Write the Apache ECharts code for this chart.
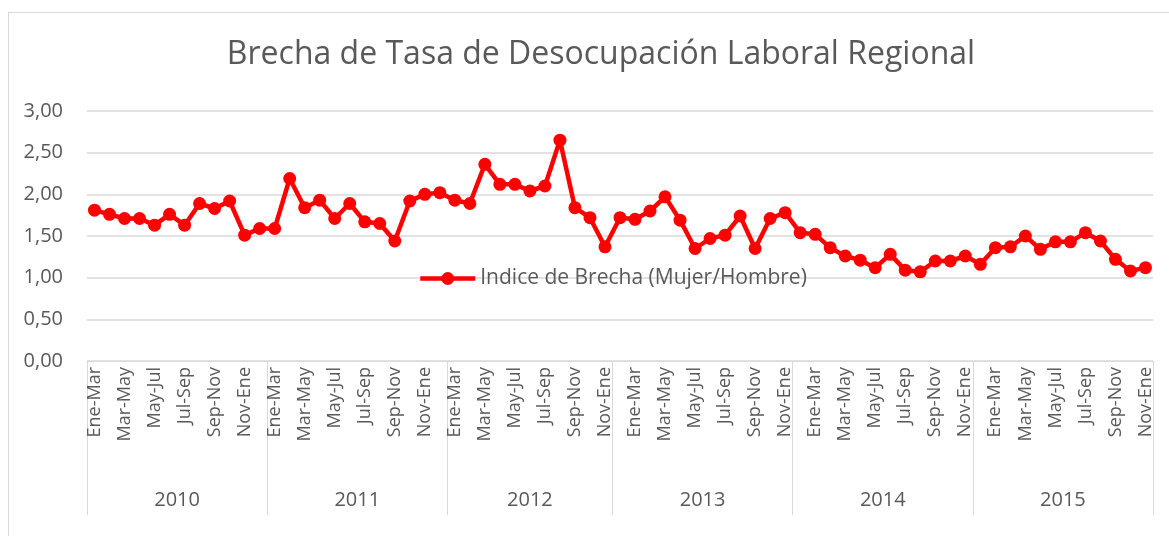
<!DOCTYPE html>
<html>
<head>
<meta charset="utf-8">
<script src="https://cdn.jsdelivr.net/npm/echarts@6/dist/echarts.min.js"></script>
<style>
  html, body { margin: 0; padding: 0; background: #fff; overflow: hidden; }
  #frame { position: absolute; left: 8px; top: 12px; width: 1200px; height: 600px; border: 1px solid #d9d9d9; }
  #chart { position: absolute; left: 0; top: 0; width: 1169px; height: 536px; }
</style>
</head>
<body>
<div id="frame"></div>
<div id="chart"></div>
<script>
// periodos (trimestres moviles) por año
const years = ['2010', '2011', '2012', '2013', '2014', '2015']
const cat2010 = ['Ene-Mar', 'Feb-Abr', 'Mar-May', 'Abr-Jun', 'May-Jul', 'Jun-Ago', 'Jul-Sep', 'Ago-Oct', 'Sep-Nov', 'Oct-Dic', 'Nov-Ene', 'Dic-Feb']
const cat2011 = ['Ene-Mar', 'Feb-Abr', 'Mar-May', 'Abr-Jun', 'May-Jul', 'Jun-Ago', 'Jul-Sep', 'Ago-Oct', 'Sep-Nov', 'Oct-Dic', 'Nov-Ene', 'Dic-Feb']
const cat2012 = ['Ene-Mar', 'Feb-Abr', 'Mar-May', 'Abr-Jun', 'May-Jul', 'Jun-Ago', 'Jul-Sep', 'Ago-Oct', 'Sep-Nov', 'Oct-Dic', 'Nov-Ene']
const cat2013 = ['Dic-Feb', 'Ene-Mar', 'Feb-Abr', 'Mar-May', 'Abr-Jun', 'May-Jul', 'Jun-Ago', 'Jul-Sep', 'Ago-Oct', 'Sep-Nov', 'Oct-Dic', 'Nov-Ene']
const cat2014 = ['Dic-Feb', 'Ene-Mar', 'Feb-Abr', 'Mar-May', 'Abr-Jun', 'May-Jul', 'Jun-Ago', 'Jul-Sep', 'Ago-Oct', 'Sep-Nov', 'Oct-Dic', 'Nov-Ene']
const cat2015 = ['Dic-Feb', 'Ene-Mar', 'Feb-Abr', 'Mar-May', 'Abr-Jun', 'May-Jul', 'Jun-Ago', 'Jul-Sep', 'Ago-Oct', 'Sep-Nov', 'Oct-Dic', 'Nov-Ene']

// Indice de Brecha (Mujer/Hombre)
const brecha2010 = [1.81, 1.76, 1.71, 1.71, 1.63, 1.76, 1.63, 1.89, 1.83, 1.92, 1.51, 1.59]
const brecha2011 = [1.59, 2.19, 1.84, 1.93, 1.71, 1.89, 1.67, 1.65, 1.44, 1.92, 2.00, 2.02]
const brecha2012 = [1.93, 1.89, 2.36, 2.12, 2.12, 2.04, 2.10, 2.65, 1.84, 1.72, 1.37]
const brecha2013 = [1.72, 1.70, 1.80, 1.97, 1.69, 1.35, 1.47, 1.51, 1.74, 1.35, 1.71, 1.78]
const brecha2014 = [1.54, 1.52, 1.36, 1.26, 1.21, 1.12, 1.28, 1.09, 1.07, 1.20, 1.20, 1.26]
const brecha2015 = [1.16, 1.36, 1.37, 1.50, 1.34, 1.43, 1.43, 1.54, 1.44, 1.22, 1.08, 1.12]

const yTicks = [0, 0.5, 1, 1.5, 2, 2.5, 3]

const catsByYear = [cat2010, cat2011, cat2012, cat2013, cat2014, cat2015]
const categories = [].concat(...catsByYear)
const values = [].concat(brecha2010, brecha2011, brecha2012, brecha2013, brecha2014, brecha2015)

// year group boundaries and centres (in category units)
const bounds = []
const centres = {}
let pos = 0
catsByYear.forEach((c, i) => {
  bounds.push(pos)
  centres[pos + c.length / 2] = years[i]
  pos += c.length
})

const textColor = '#595959'
const lineGray = '#d9d9d9'
const font = 'Open Sans'

const chart = echarts.init(document.getElementById('chart'), null, { renderer: 'canvas' })
chart.setOption({
  animation: false,
  title: {
    text: 'Brecha de Tasa de Desocupación Laboral Regional',
    left: 596,
    textAlign: 'center',
    top: 34,
    textStyle: { fontFamily: font, fontSize: 32, fontWeight: 'normal', color: textColor }
  },
  legend: {
    left: 418,
    top: 268,
    padding: 0,
    itemWidth: 55,
    itemHeight: 16,
    itemGap: 5,
    lineStyle: { width: 4.5 },
    textStyle: { fontFamily: font, fontSize: 21, color: textColor }
  },
  grid: { left: 87, right: 16, top: 111, bottom: 175 },
  xAxis: [
    {
      type: 'category',
      data: categories,
      boundaryGap: true,
      axisLine: { lineStyle: { color: lineGray, width: 1 } },
      axisTick: {
        show: true,
        interval: (index) => bounds.indexOf(index) >= 0,
        length: 154,
        lineStyle: { color: lineGray, width: 1 }
      },
      axisLabel: {
        interval: 1,
        rotate: 90,
        margin: 6,
        fontFamily: font,
        fontSize: 18,
        color: textColor
      },
      splitLine: { show: false }
    },
    {
      type: 'value',
      position: 'bottom',
      min: 0,
      max: categories.length,
      interval: 0.5,
      offset: 121,
      axisLine: { show: false },
      axisTick: { show: false },
      splitLine: { show: false },
      axisLabel: {
        margin: 8,
        fontFamily: font,
        fontSize: 20,
        color: textColor,
        formatter: (v) => centres[v] || ''
      }
    }
  ],
  yAxis: {
    type: 'value',
    min: yTicks[0],
    max: yTicks[yTicks.length - 1],
    interval: 0.5,
    axisLine: { show: false },
    axisTick: { show: false },
    splitLine: { lineStyle: { color: lineGray, width: 1.5 } },
    axisLabel: {
      margin: 24,
      fontFamily: font,
      fontSize: 20,
      color: textColor,
      formatter: (v) => v.toFixed(2).replace('.', ',')
    }
  },
  series: [
    {
      name: 'Indice de Brecha (Mujer/Hombre)',
      type: 'line',
      xAxisIndex: 0,
      data: values,
      color: '#ff0000',
      showAllSymbol: true,
      symbol: 'circle',
      symbolSize: 13,
      lineStyle: { width: 4.5, color: '#ff0000' },
      itemStyle: { color: '#ff0000' }
    }
  ]
})
</script>
</body>
</html>
